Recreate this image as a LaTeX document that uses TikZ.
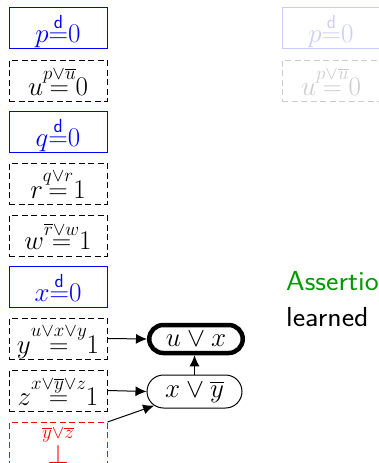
\RequirePackage{fix-cm}
\documentclass[tikz,border=0pt]{standalone}
\usepackage{amsmath}
\usetikzlibrary{arrows.meta,shapes.misc}
\definecolor{asgreen}{RGB}{0,153,0}
\newcommand{\mystk}[2]{{\stackrel{#1}{#2}}}
\begin{document}
\begin{tikzpicture}[x=1pt,y=1pt,font=\fontsize{27}{32}\selectfont,
  box/.style={rectangle, minimum width=98pt, minimum height=41pt, inner sep=0pt, text depth=0pt, line width=1pt},
  lit/.style={box, draw=blue, text=blue},
  imp/.style={box, draw=black, dash pattern=on 6pt off 3.5pt},
  confl/.style={box, draw=red, text=red, dash pattern=on 6pt off 3.5pt},
  litfade/.style={box, draw=blue!20, text=blue!20},
  impfade/.style={box, draw=black!20, text=black!20, dash pattern=on 6pt off 3.5pt},
  clause/.style={rounded rectangle, draw, line width=1pt, minimum width=95pt, minimum height=33pt, inner sep=0pt},
  learnt/.style={rounded rectangle, draw, line width=4.5pt, minimum width=93.5pt, minimum height=28pt, inner sep=0pt},
  arr/.style={-{Latex[length=11pt,width=10pt]}, line width=1pt},
  sans/.style={anchor=base west, inner sep=0pt, font=\fontsize{27.5}{32}\selectfont\sffamily}]
\clip (0,0) rectangle (379,-463);
\node[lit] (p) at (58,-27.5) {$p\mystk{\mathsf{d}}{=}0$};
\node[imp] (u) at (58,-80.5) {$u\mystk{p\lor\overline{u}}{=}0$};
\node[lit] (q) at (58,-131.5) {$q\mystk{\mathsf{d}}{=}0$};
\node[imp] (r) at (58,-183.5) {$r\mystk{q\lor r}{=}1$};
\node[imp] (w) at (58,-235.5) {$w\mystk{\overline{r}\lor w}{=}1$};
\node[lit] (x) at (58,-286.5) {$x\mystk{\mathsf{d}}{=}0$};
\node[imp] (y) at (58,-338.5) {$y\mystk{u\lor x\lor y}{=}1$};
\node[imp] (z) at (58,-390.5) {$z\mystk{x\lor\overline{y}\lor z}{=}1$};
\node[confl] (bot) at (58,-443) {$\mystk{\overline{y}\lor\overline{z}}{\bot}$};
\node[learnt] (ux) at (196,-339) {$u\lor x$};
\node[clause] (xy) at (194.5,-391.5) {$x\lor\overline{y}$};
\draw[arr] (y.east) -- (ux.west);
\draw[arr] (z.east) -- (xy.west);
\draw[arr] (bot.north east) -- (xy);
\draw[arr] (xy.north) -- (xy.north |- ux.south);
\node[litfade] (p2) at (331,-27.5) {$p\mystk{\mathsf{d}}{=}0$};
\node[impfade] (u2) at (331,-80.5) {$u\mystk{p\lor\overline{u}}{=}0$};
\node[sans, text=asgreen] (as) at (286,-290) {\scalebox{1.08}[1]{Assertion}};
\node[sans] (le) at (286,-326) {\scalebox{1.08}[1]{learned}};
\end{tikzpicture}
\end{document}
